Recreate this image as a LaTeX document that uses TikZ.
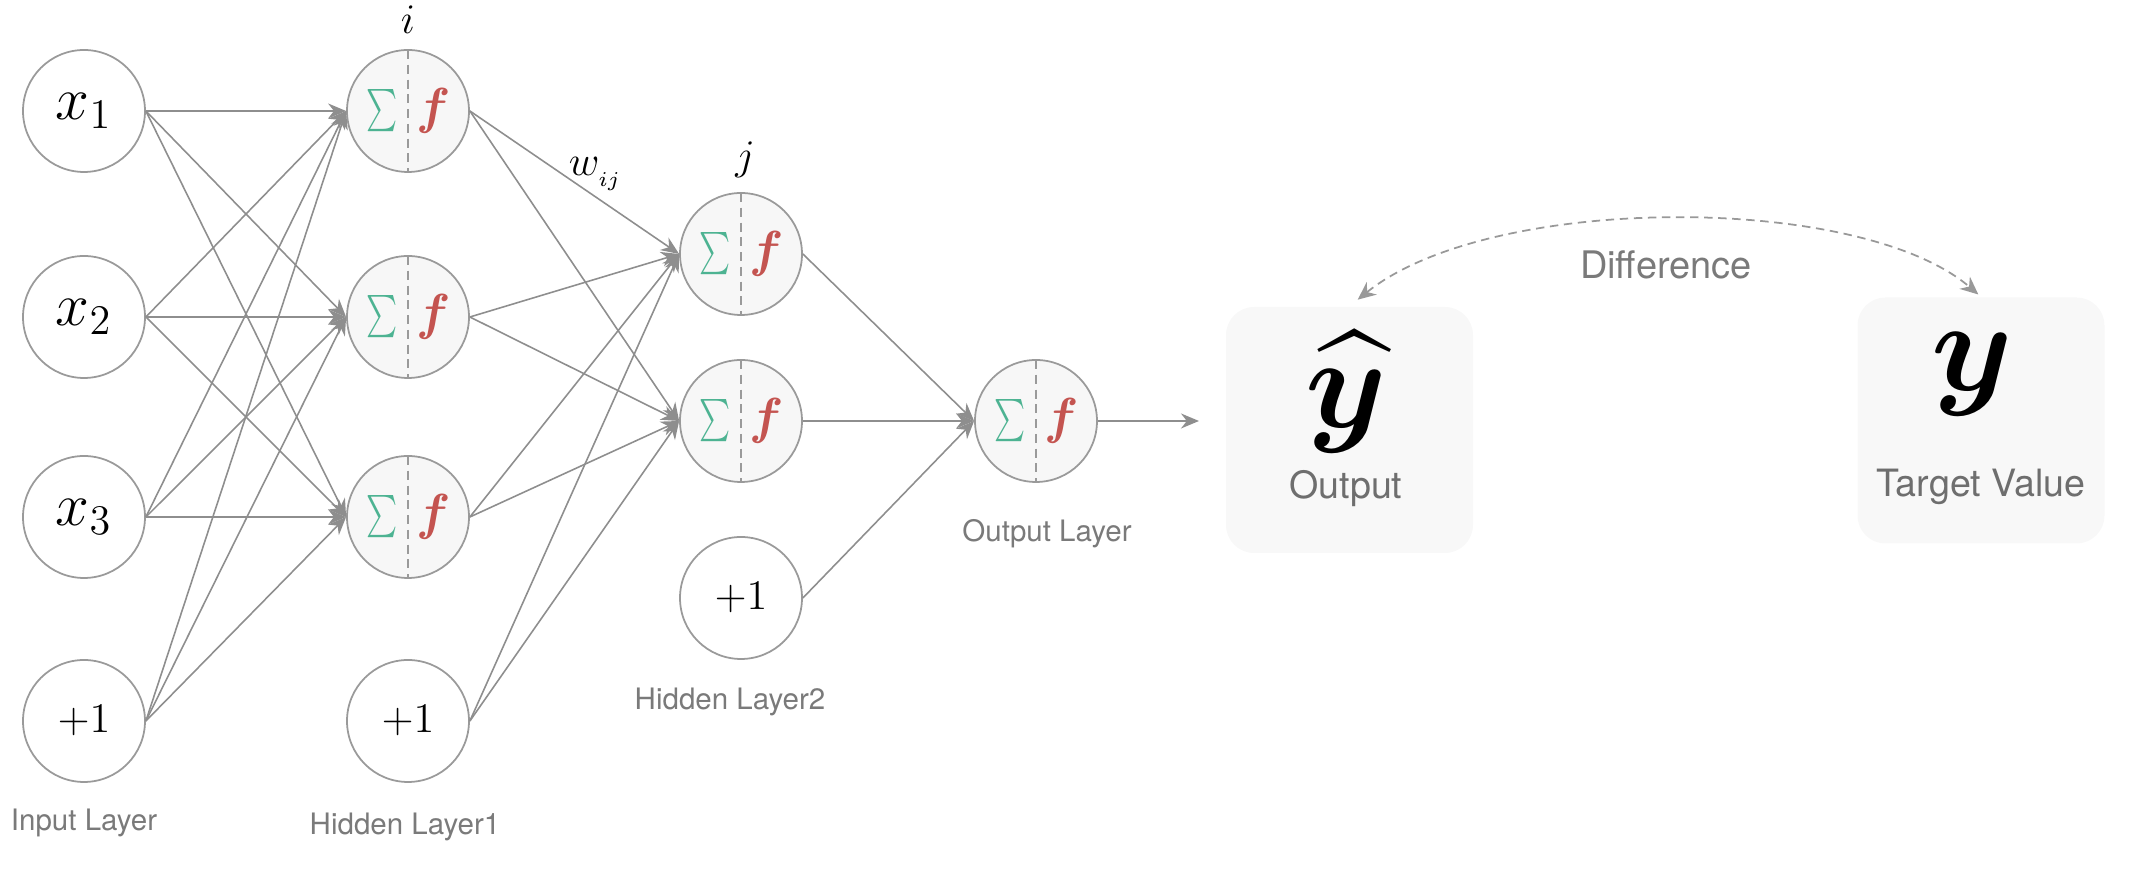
\documentclass[tikz,border=0pt]{standalone}
\usepackage{amsmath,bm,graphicx,xcolor}
\usepackage{fontspec}
\setsansfont{TeX Gyre Heros}
\usepackage{tikz}
\usetikzlibrary{arrows.meta}
\definecolor{ring}{HTML}{9A9A9A}
\definecolor{wire}{HTML}{8E8E8E}
\definecolor{cellfill}{HTML}{F7F7F7}
\definecolor{sumgreen}{HTML}{4DB392}
\definecolor{fred}{HTML}{C45450}
\definecolor{labelgray}{HTML}{7A7A7A}
\definecolor{cardfill}{HTML}{F8F8F8}
\tikzset{unit/.style={circle,draw=ring,fill=white,line width=0.5pt,minimum size=1.22cm,inner sep=0pt,font=\large}, cell/.style={unit,fill=cellfill,path picture={\draw[ring,dash pattern=on 2.6pt off 1.6pt] (path picture bounding box.north)--(path picture bounding box.south); \node[text=sumgreen,font=\fontsize{12.5}{14}\selectfont,inner sep=0pt] at ([xshift=-0.26cm]path picture bounding box.center) {\scalebox{0.7}[1]{$\sum$}}; \node[text=fred,font=\fontsize{13.5}{15}\selectfont,inner sep=0pt] at ([xshift=0.26cm]path picture bounding box.center) {$\bm{f}$};}}, flow/.style={-{Stealth[length=1.8mm,width=1.5mm]},line width=0.45pt,draw=wire}, layer/.style={font=\sffamily\fontsize{8.4}{10}\selectfont,text=labelgray}, card/.style={fill=cardfill,rounded corners=0.28cm,minimum width=2.47cm,minimum height=2.46cm}, cardtext/.style={font=\sffamily\fontsize{10.7}{12}\selectfont,text=labelgray!90!black,inner sep=0pt}, gap/.style={{Stealth[length=1.8mm,width=1.6mm]}-{Stealth[length=1.8mm,width=1.6mm]},line width=0.5pt,draw=wire!90,dash pattern=on 2.4pt off 1.6pt}}

\begin{document}
\begin{tikzpicture}
\useasboundingbox (0,0) rectangle (21.32,8.78);
\node[unit,font=\LARGE] (x1) at (0.84,7.67) {$x_1$};
\node[unit,font=\LARGE] (x2) at (0.84,5.61) {$x_2$};
\node[unit,font=\LARGE] (x3) at (0.84,3.61) {$x_3$};
\node[unit] (b0) at (0.84,1.57) {$+1$};
\node[cell] (h1) at (4.08,7.67) {};
\node[cell] (h2) at (4.08,5.61) {};
\node[cell] (h3) at (4.08,3.61) {};
\node[unit] (b1) at (4.08,1.57) {$+1$};
\node[cell] (g1) at (7.41,6.24) {};
\node[cell] (g2) at (7.41,4.57) {};
\node[unit] (b2) at (7.41,2.80) {$+1$};
\node[cell] (o) at (10.36,4.57) {};
\coordinate (oend) at (11.99,4.57);
\node[font=\large] (ilbl) at (4.08,8.58) {$i$};
\node[font=\large] (jlbl) at (7.45,7.18) {$j$};
\node[font=\large] (wlbl) at (5.96,7.04) {$w_{_{ij}}$};
\node[layer] (inlayer) at (0.84,0.55) {Input Layer};
\node[layer] (h1layer) at (4.05,0.51) {Hidden Layer1};
\node[layer] (h2layer) at (7.30,1.76) {Hidden Layer2};
\node[layer] (outlayer) at (10.47,3.44) {Output Layer};
\draw[flow] (x1.east)--(h1.west);
\draw[flow] (x1.east)--(h2.west);
\draw[flow] (x1.east)--(h3.west);
\draw[flow] (x2.east)--(h1.west);
\draw[flow] (x2.east)--(h2.west);
\draw[flow] (x2.east)--(h3.west);
\draw[flow] (x3.east)--(h1.west);
\draw[flow] (x3.east)--(h2.west);
\draw[flow] (x3.east)--(h3.west);
\draw[flow] (b0.east)--(h1.west);
\draw[flow] (b0.east)--(h2.west);
\draw[flow] (b0.east)--(h3.west);
\draw[flow] (h1.east)--(g1.west);
\draw[flow] (h1.east)--(g2.west);
\draw[flow] (h2.east)--(g1.west);
\draw[flow] (h2.east)--(g2.west);
\draw[flow] (h3.east)--(g1.west);
\draw[flow] (h3.east)--(g2.west);
\draw[flow] (b1.east)--(g1.west);
\draw[flow] (b1.east)--(g2.west);
\draw[flow] (g1.east)--(o.west);
\draw[flow] (g2.east)--(o.west);
\draw[flow] (b2.east)--(o.west);
\draw[flow] (o.east)--(oend);
\node[card] (outcard) at (13.495,4.48) {};
\node[card] (tgtcard) at (19.81,4.575) {};
\node[inner sep=0pt] (yhat) at (13.46,4.86) {\scalebox{3.7}{$\bm{\widehat{y}}$}};
\node[cardtext] (outtxt) at (13.46,3.89) {Output};
\node[inner sep=0pt] (ytgt) at (19.72,5.04) {\scalebox{3.7}{$\bm{y}$}};
\node[cardtext] (tgttxt) at (19.81,3.91) {Target Value};
\draw[gap,shorten <=3pt,shorten >=1pt] (outcard.north) .. controls (14.9,6.85) and (18.6,6.85) .. (tgtcard.north);
\node[font=\sffamily\fontsize{10.8}{12}\selectfont,text=labelgray] (diff) at (16.66,6.13) {Difference};
\end{tikzpicture}
\end{document}
